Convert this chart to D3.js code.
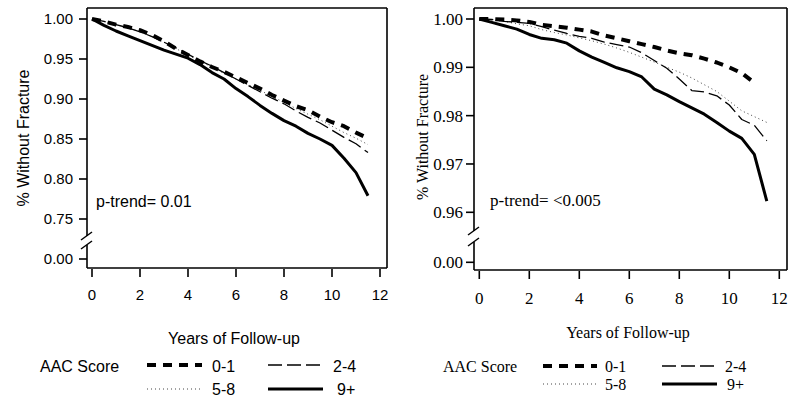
<!DOCTYPE html>
<html><head><meta charset="utf-8">
<script src="https://cdn.jsdelivr.net/npm/d3@7"></script>
<style>body{margin:0;background:#fff}</style>
</head><body><svg id="c" width="800" height="400"></svg>
<script>
// ---------- data ----------
const years = [0,0.5,1,1.5,2,2.5,3,3.5,4,4.5,5,5.5,6,6.5,7,7.5,8,8.5,9,9.5,10,10.5,11,11.5];
const seriesLabels = ["0-1","2-4","5-8","9+"];
const xTicks = [0,2,4,6,8,10,12];
const leftYTicks = [0,0.75,0.80,0.85,0.90,0.95,1.00];
const rightYTicks = [0,0.96,0.97,0.98,0.99,1.00];

const left01 = [1.000,0.997,0.993,0.990,0.986,0.980,0.972,0.963,0.955,0.947,0.940,0.934,0.927,0.920,0.913,0.905,0.898,0.891,0.886,0.878,0.871,0.866,0.858,0.851];
const left24 = [1.000,0.997,0.993,0.989,0.984,0.978,0.971,0.964,0.956,0.948,0.941,0.933,0.925,0.917,0.909,0.901,0.894,0.885,0.877,0.870,0.861,0.852,0.844,0.833];
const left58 = [1.000,0.997,0.993,0.989,0.984,0.978,0.971,0.963,0.955,0.947,0.940,0.932,0.925,0.918,0.911,0.903,0.896,0.888,0.881,0.874,0.866,0.858,0.851,0.843];
const left9p = [1.000,0.992,0.985,0.979,0.973,0.967,0.961,0.956,0.951,0.943,0.933,0.925,0.913,0.903,0.892,0.882,0.873,0.866,0.857,0.850,0.842,0.826,0.808,0.779];

const right01 = [1.0000,1.0000,0.9999,0.9997,0.9994,0.9988,0.9985,0.9982,0.9978,0.9974,0.9966,0.9960,0.9954,0.9948,0.9942,0.9935,0.9929,0.9925,0.9918,0.9910,0.9900,0.9888,0.9868,null];
const right24 = [1.0000,0.9999,0.9995,0.9993,0.9991,0.9984,0.9977,0.9970,0.9964,0.9960,0.9952,0.9947,0.9942,0.9930,0.9914,0.9898,0.9876,0.9852,0.9849,0.9841,0.9822,0.9792,0.9780,0.9748];
const right58 = [1.0000,0.9998,0.9995,0.9990,0.9986,0.9978,0.9972,0.9967,0.9961,0.9955,0.9948,0.9940,0.9931,0.9921,0.9911,0.9900,0.9890,0.9878,0.9864,0.9850,0.9830,0.9810,0.9798,0.9786];
const right9p = [1.0000,0.9993,0.9986,0.9979,0.9968,0.9960,0.9957,0.9950,0.9934,0.9921,0.9910,0.9899,0.9891,0.9880,0.9855,0.9843,0.9829,0.9816,0.9803,0.9786,0.9768,0.9753,0.9720,0.9623];

const yTitle = "% Without Fracture";
const xTitle = "Years of Follow-up";
const legendTitle = "AAC Score";
const leftPTrend = "p-trend= 0.01";
const rightPTrend = "p-trend= <0.005";

// ---------- styles ----------
const lineStyles = {
  "0-1": {w:4, dash:"9,7", color:"#000"},
  "2-4": {w:1.3, dash:"14,5", color:"#000"},
  "5-8": {w:1, dash:"1,3", color:"#444"},
  "9+":  {w:3, dash:null, color:"#000"}
};

const svg = d3.select("#c");
svg.append("rect").attr("width",800).attr("height",400).attr("fill","#fff");

function drawPanel(cfg, seriesData){
  const g = svg.append("g").style("font-family", cfg.font).attr("fill","#000");
  const x = d3.scaleLinear().domain([0,12]).range(cfg.xRange);
  const y = d3.scaleLinear().domain(cfg.yDomain).range(cfg.yRange);
  const b = cfg.box;

  // frame (left side with a gap for the break)
  const frame = g.append("g").attr("stroke","#000").attr("stroke-width",1.6).attr("fill","none");
  frame.append("line").attr("x1",b.x0).attr("x2",b.x1).attr("y1",b.y0).attr("y2",b.y0);
  frame.append("line").attr("x1",b.x1).attr("x2",b.x1).attr("y1",b.y0).attr("y2",b.y1);
  frame.append("line").attr("x1",b.x0).attr("x2",b.x1).attr("y1",b.y1).attr("y2",b.y1);
  frame.append("line").attr("x1",b.x0).attr("x2",b.x0).attr("y1",b.y0).attr("y2",cfg.brk[0]);
  frame.append("line").attr("x1",b.x0).attr("x2",b.x0).attr("y1",cfg.brk[1]).attr("y2",b.y1);
  cfg.brk.forEach(yb=>{
    frame.append("line").attr("x1",b.x0-6).attr("y1",yb+4).attr("x2",b.x0+5).attr("y2",yb-4).attr("stroke-width",1.5);
  });

  // y axis ticks
  const yAx = g.append("g");
  cfg.yTicks.forEach(t=>{
    yAx.append("line").attr("x1",b.x0-8).attr("x2",b.x0).attr("y1",y(t)).attr("y2",y(t))
      .attr("stroke","#000").attr("stroke-width",1.6);
    yAx.append("text").attr("x",b.x0-cfg.yLabOff).attr("y",y(t)).attr("dy","0.36em")
      .attr("text-anchor","end").style("font-size",cfg.tickSize+"px").text(d3.format(".2f")(t));
  });
  // x axis ticks
  const xAx = g.append("g");
  xTicks.forEach(t=>{
    xAx.append("line").attr("x1",x(t)).attr("x2",x(t)).attr("y1",b.y1+1).attr("y2",b.y1+9)
      .attr("stroke","#000").attr("stroke-width",1.6);
    xAx.append("text").attr("x",x(t)).attr("y",cfg.xLabY).attr("text-anchor","middle")
      .style("font-size",cfg.tickSize+"px").text(t);
  });

  // titles
  g.append("text").attr("transform",`translate(${cfg.yTitlePos[0]},${cfg.yTitlePos[1]}) rotate(-90)`)
    .attr("text-anchor","middle").attr("dy","0.36em").style("font-size",cfg.titleSize+"px").text(yTitle);
  g.append("text").attr("x",cfg.xTitlePos[0]).attr("y",cfg.xTitlePos[1]).attr("text-anchor","middle")
    .style("font-size",cfg.titleSize+"px").text(xTitle);
  g.append("text").attr("x",cfg.pPos[0]).attr("y",cfg.pPos[1]).style("font-size",cfg.pSize+"px").text(cfg.pText);

  // curves
  const line = d3.line().defined(d=>d[1]!=null).x(d=>x(d[0])).y(d=>y(d[1])).curve(d3.curveLinear);
  const order = ["5-8","2-4","0-1","9+"];
  order.forEach(k=>{
    const vals = seriesData[k];
    const st = lineStyles[k];
    g.append("path").datum(years.map((t,i)=>[t,vals[i]]))
      .attr("d",line).attr("fill","none").attr("stroke",st.color).attr("stroke-width",st.w)
      .attr("stroke-dasharray",st.dash).attr("stroke-linejoin","round");
  });

  // legend
  const L = cfg.legend;
  g.append("text").attr("x",L.titleX).attr("y",L.rowBase[0]).style("font-size",cfg.legSize+"px").text(legendTitle);
  seriesLabels.forEach((k,i)=>{
    const col = i%2, row = Math.floor(i/2);
    const st = lineStyles[k];
    g.append("line").attr("x1",L.lineX[col][0]).attr("x2",L.lineX[col][1])
      .attr("y1",L.lineY[row]).attr("y2",L.lineY[row])
      .attr("stroke",st.color).attr("stroke-width",st.w).attr("stroke-dasharray",st.dash);
    g.append("text").attr("x",L.labX[i]).attr("y",L.rowBase[row]).style("font-size",cfg.legSize+"px").text(k);
  });
}

drawPanel({
  font:"'Liberation Sans', Arial, sans-serif",
  tickSize:15, titleSize:16, pSize:16, legSize:16,
  box:{x0:87,x1:387,y0:8,y1:268},
  xRange:[92,380],
  yDomain:[0,0.75,1.0], yRange:[259,219,19],
  yTicks:leftYTicks, yLabOff:14, xLabY:300,
  brk:[236,245],
  yTitlePos:[23,138], xTitlePos:[234,344],
  pPos:[96,207], pText:leftPTrend,
  legend:{titleX:40, rowBase:[372,395], lineY:[365,389],
          lineX:[[147,202],[268,323]], labX:[212,333,212,337]}
},{ "0-1":left01, "2-4":left24, "5-8":left58, "9+":left9p });

drawPanel({
  font:"'Liberation Serif', 'Times New Roman', serif",
  tickSize:17, titleSize:16, pSize:17, legSize:16,
  box:{x0:474,x1:787,y0:8,y1:270},
  xRange:[479.3,779.3],
  yDomain:[0,0.96,1.0], yRange:[262.3,212.3,19],
  yTicks:rightYTicks, yLabOff:11, xLabY:304,
  brk:[231,242],
  yTitlePos:[422,137], xTitlePos:[628,338],
  pPos:[490,206], pText:rightPTrend,
  legend:{titleX:443, rowBase:[372,390], lineY:[366,384],
          lineX:[[543,597],[662,717]], labX:[605,725,605,727]}
},{ "0-1":right01, "2-4":right24, "5-8":right58, "9+":right9p });
</script>
</body></html>
